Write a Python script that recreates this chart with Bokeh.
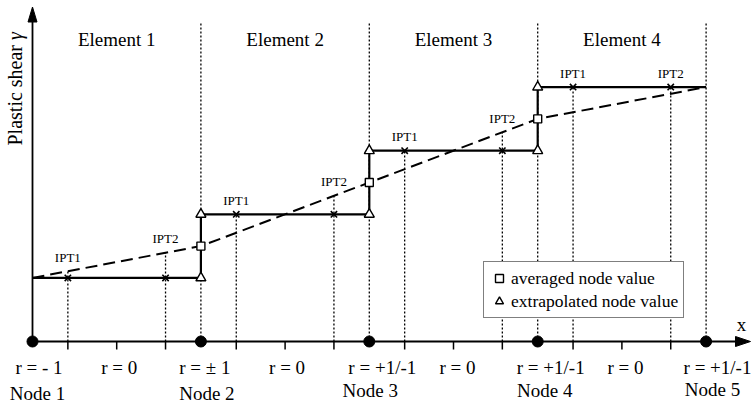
import numpy as np
from bokeh.plotting import figure
from bokeh.models import Range1d, Legend, LegendItem
from bokeh.core.properties import value
from bokeh.embed import file_html
from bokeh.resources import INLINE

# ---------------- data ----------------
node_x = [0, 1, 2, 3, 4]
node_names = ["Node 1", "Node 2", "Node 3", "Node 4", "Node 5"]
element_names = ["Element 1", "Element 2", "Element 3", "Element 4"]
element_center = [0.5, 1.5, 2.5, 3.5]
element_gamma = [1.0, 2.0, 3.0, 4.0]
ipt_x = [0.21, 0.79, 1.21, 1.79, 2.21, 2.79, 3.21, 3.79]
ipt_gamma = [1.0, 1.0, 2.0, 2.0, 3.0, 3.0, 4.0, 4.0]
ipt_names = ["IPT1", "IPT2", "IPT1", "IPT2", "IPT1", "IPT2", "IPT1", "IPT2"]
smoothed_gamma = [1.0, 1.5, 2.5, 3.5, 4.0]
avg_x = [1, 2, 3]
avg_gamma = [1.5, 2.5, 3.5]
extrap_x = [1, 1, 2, 2, 3, 3]
extrap_gamma = [1.0, 2.0, 2.0, 3.0, 3.0, 4.0]
r_pos = [0, 0.5, 1, 1.5, 2, 2.5, 3, 3.5, 4]
r_labels = ["r = - 1", "r = 0", "r = \u00b1 1", "r = 0", "r = +1/-1",
            "r = 0", "r = +1/-1", "r = 0", "r = +1/-1"]

# ---------------- layout (screen px) ----------------
W, H = 753, 404
X0, UX = 32.0, 168.4
Y0, UY = 341.0, 63.6


def sx(px):
    return (px - X0) / UX


def sy(px):
    return (Y0 - px) / UY


FONT_NAME = "Liberation Serif"
BLACK = "black"
K_BASE = 0.34  # shift so that the glyph baseline lands on the given y


def label(x, y, text, size, align="center", rotated=False, **kw):
    s = float(size.replace("px", ""))
    offs = dict(x_offset=-K_BASE * s) if rotated else dict(y_offset=-K_BASE * s)
    p.text(x=x, y=y, text=text, text_font=value(FONT_NAME),
           text_font_size=size, text_align=align,
           text_baseline="alphabetic", text_color=BLACK,
           angle=(np.pi / 2 if rotated else 0), **offs, **kw)


p = figure(width=W, height=H, x_range=Range1d(sx(0), sx(W)),
           y_range=Range1d(sy(H), sy(0)), output_backend="svg",
           toolbar_location=None, min_border=0, x_axis_type=None,
           y_axis_type=None, outline_line_color=None)

# element boundary dotted lines
p.segment(x0=node_x[1:], y0=[0] * 4, x1=node_x[1:], y1=[sy(23)] * 4,
          line_dash="2 2", line_width=1.3, line_color=BLACK)

# integration point dotted lines
dash_at_ipt = np.interp(ipt_x, node_x, smoothed_gamma)
ipt_top = [float(v) for v in np.maximum(np.array(ipt_gamma), dash_at_ipt)]
p.segment(x0=ipt_x, y0=[0] * len(ipt_x), x1=ipt_x, y1=ipt_top,
          line_dash="2 2", line_width=1.3, line_color=BLACK)

# ticks below the x axis
tick_x = sorted(ipt_x + element_center)
p.segment(x0=tick_x, y0=[0] * len(tick_x), x1=tick_x,
          y1=[-8 / UY] * len(tick_x), line_width=1.5, line_color=BLACK)

# axes with arrow heads
p.line([0, sx(737)], [0, 0], line_width=1.8, line_color=BLACK)
p.patch([sx(750), sx(735), sx(735)], [0, 5 / UY, -5 / UY], color=BLACK)
p.line([0, 0], [0, sy(19)], line_width=1.8, line_color=BLACK)
p.patch([0, -4.5 / UX, 4.5 / UX], [sy(6.5), sy(21.5), sy(21.5)], color=BLACK)

# step function (element-wise constant)
sxs, sys_ = [], []
for i, g in enumerate(element_gamma):
    sxs += [node_x[i], node_x[i + 1]]
    sys_ += [g, g]
p.line(sxs, sys_, line_width=2.2, line_color=BLACK)

# smoothed (dashed) line
p.line(node_x, smoothed_gamma, line_dash="12 6", line_width=2, line_color=BLACK)

# markers
p.scatter(ipt_x, ipt_gamma, marker="x", size=9, line_width=1.6, line_color=BLACK)
r_sq = p.scatter(avg_x, avg_gamma, marker="square", size=8, fill_color="white",
                 line_color=BLACK, line_width=1.4)
r_tri = p.scatter(extrap_x, extrap_gamma, marker="triangle", size=10,
                  fill_color="white", line_color=BLACK, line_width=1.4)
p.scatter(node_x, [0] * 5, marker="circle", size=11, fill_color=BLACK,
          line_color=BLACK)

# texts (y given at the text baseline)
label(element_center, [sy(45)] * 4, element_names, "19px")
r_dx = [6.5, 2.5, 4, 2, 13, 4, 13, 3.5, 11.4]
label([x + d / UX for x, d in zip(r_pos, r_dx)], [sy(373)] * len(r_pos),
      r_labels, "19px")
n_dx = [5, 6, 1, 7, 6.4]
n_base = [399, 399, 396.7, 396.7, 395]
label([x + d / UX for x, d in zip(node_x, n_dx)], [sy(b) for b in n_base],
      node_names, "19px")
label(ipt_x, [t + 9.5 / UY for t in ipt_top], ipt_names, "13px")
label([sx(741)], [sy(330)], ["x"], "19px")
label([sx(21.5)], [sy(145)], ["Plastic shear"], "20px", align="left",
      rotated=True)
label([sx(21.5)], [sy(39.5)], ["\u03b3"], "20px", align="left",
      rotated=True, text_font_style="italic")

# legend
legend = Legend(items=[LegendItem(label="averaged node value", renderers=[r_sq]),
                       LegendItem(label="extrapolated node value", renderers=[r_tri])],
                location=(483, H - 318), margin=0, padding=5, spacing=1,
                glyph_width=20, glyph_height=22, label_height=22,
                label_standoff=2, border_line_color=BLACK, border_line_width=1.5,
                background_fill_color="white", background_fill_alpha=1.0,
                label_text_font=FONT_NAME, label_text_font_size="17.5px",
                label_text_color=BLACK)
p.add_layout(legend)

open("out.html", "w").write(file_html(p, INLINE))
